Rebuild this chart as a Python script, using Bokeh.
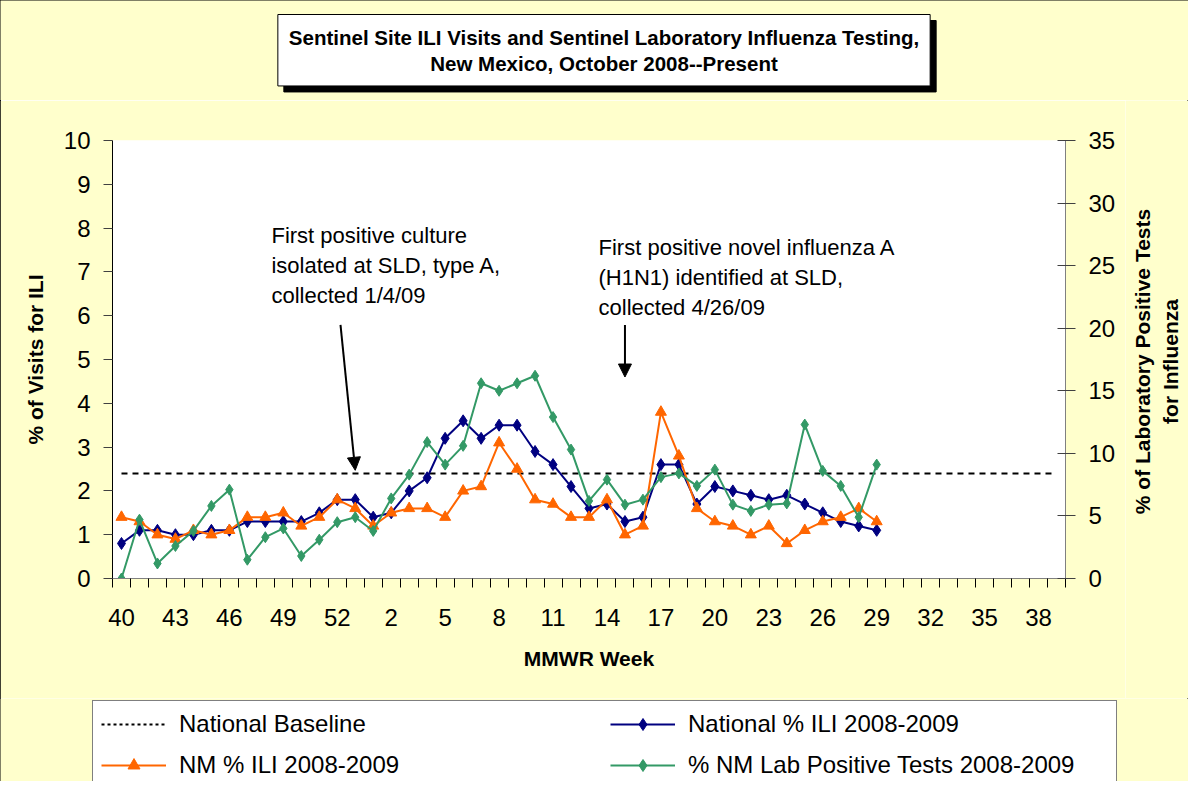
import math
from bokeh.plotting import figure
from bokeh.layouts import column, row
from bokeh.models import (Range1d, LinearAxis, FixedTicker, SingleIntervalTicker, Label,
                          Arrow, NormalHead, Legend, LegendItem)
from bokeh.embed import file_html
from bokeh.resources import INLINE

# ---- data -------------------------------------------------------------
weeks = [str(w) for w in range(40, 54)] + [str(w) for w in range(1, 40)]
national_ili = [0.8, 1.1, 1.1, 1.0, 1.0, 1.1, 1.1, 1.3, 1.3, 1.3, 1.3, 1.5, 1.8, 1.8,
                1.4, 1.5, 2.0, 2.3, 3.2, 3.6, 3.2, 3.5, 3.5, 2.9, 2.6, 2.1, 1.6, 1.7,
                1.3, 1.4, 2.6, 2.6, 1.7, 2.1, 2.0, 1.9, 1.8, 1.9, 1.7, 1.5, 1.3, 1.2, 1.1]
nm_ili = [1.4, 1.3, 1.0, 0.9, 1.1, 1.0, 1.1, 1.4, 1.4, 1.5, 1.2, 1.4, 1.8, 1.6,
          1.2, 1.5, 1.6, 1.6, 1.4, 2.0, 2.1, 3.1, 2.5, 1.8, 1.7, 1.4, 1.4, 1.8,
          1.0, 1.2, 3.8, 2.8, 1.6, 1.3, 1.2, 1.0, 1.2, 0.8, 1.1, 1.3, 1.4, 1.6, 1.3]
lab_positive = [0.0, 4.7, 1.2, 2.6, 3.8, 5.8, 7.1, 1.5, 3.3, 4.0, 1.8, 3.1, 4.5, 4.9,
                3.8, 6.4, 8.3, 10.9, 9.1, 10.6, 15.6, 15.0, 15.6, 16.2, 12.9, 10.3, 6.2, 7.9,
                5.9, 6.3, 8.1, 8.4, 7.4, 8.7, 5.9, 5.4, 5.9, 6.0, 12.3, 8.6, 7.4, 4.9, 9.1]
national_baseline = 2.4
label_step = 3
ili_max = 10
lab_max = 35

FONT = "Liberation Sans"
NAVY = "#000080"
ORANGE = "#FF6600"
GREEN = "#339966"
BG = "#FFFFCC"

# layout (pixels)
W = 1188
H_TITLE, H_MAIN, H_LEG = 100, 598, 83
W_MAIN = 1125
W_RLAB = W - W_MAIN
FRAME_L, FRAME_T, FRAME_W, FRAME_H = 112, 40, 953, 438


def strip(width, height):
    f = figure(width=width, height=height, output_backend="svg", toolbar_location=None,
               x_range=Range1d(0, width), y_range=Range1d(0, height),
               x_axis_type=None, y_axis_type=None,
               min_border_left=0, min_border_right=0, min_border_top=0, min_border_bottom=0)
    if "frame_align" in f.properties():
        f.frame_align = False
    f.border_fill_color = BG
    f.background_fill_color = BG
    f.outline_line_color = None
    f.xgrid.visible = False
    f.ygrid.visible = False
    return f


xpos_all = list(range(len(weeks)))
xpos = xpos_all[:len(national_ili)]

# ---- title strip -------------------------------------------------------------
t = strip(W, H_TITLE)
title_txt = "Sentinel Site ILI Visits and Sentinel Laboratory Influenza Testing,\nNew Mexico, October 2008--Present"
common = dict(x_units="screen", y_units="screen", text=title_txt, text_align="center",
              text_baseline="top", text_font=FONT, text_font_style="bold",
              text_font_size="20.5px", text_line_height=1.15, padding=11)
t.add_layout(Label(x=603.5 + 6, y=86 - 6, text_color="black", background_fill_color="black",
                   border_line_color="black", **common))
t.add_layout(Label(x=603.5, y=86, text_color="black", background_fill_color="white",
                   border_line_color="black", **common))

# ---- main chart -------------------------------------------------------------
p = figure(width=W_MAIN, height=H_MAIN, output_backend="svg", toolbar_location=None,
           x_range=Range1d(-0.5, len(weeks) - 0.5), y_range=Range1d(0, ili_max),
           min_border_left=FRAME_L, min_border_right=W_MAIN - FRAME_L - FRAME_W,
           min_border_top=FRAME_T, min_border_bottom=H_MAIN - FRAME_T - FRAME_H)
p.border_fill_color = BG
p.background_fill_color = "white"
p.outline_line_color = None
p.xgrid.visible = False
p.ygrid.visible = False
p.extra_y_ranges = {"lab": Range1d(0, lab_max)}

# x axis
xa = p.xaxis[0]
xa.ticker = FixedTicker(ticks=xpos_all[::label_step],
                        minor_ticks=[i - 0.5 for i in range(len(weeks) + 1)])
xa.major_label_overrides = {i: weeks[i] for i in xpos_all[::label_step]}
xa.axis_line_color = "#808080"
xa.major_tick_line_color = None
xa.major_tick_out = 0
xa.major_tick_in = 0
xa.minor_tick_line_color = "black"
xa.minor_tick_out = 9
xa.minor_tick_in = 0
xa.major_label_text_font = FONT
xa.major_label_text_font_size = "24px"
xa.major_label_text_color = "black"
xa.major_label_standoff = 21
xa.axis_label = "MMWR Week"
xa.axis_label_text_font = FONT
xa.axis_label_text_font_style = "bold"
xa.axis_label_text_font_size = "21px"
xa.axis_label_text_color = "black"
xa.axis_label_standoff = 18

# left axis
ya = p.yaxis[0]
ya.ticker = SingleIntervalTicker(interval=1)
ya.axis_line_color = "black"
ya.major_tick_line_color = "#404040"
ya.major_tick_out = 9
ya.major_tick_in = 0
ya.minor_tick_line_color = None
ya.major_label_text_font = FONT
ya.major_label_text_font_size = "24px"
ya.major_label_text_color = "black"
ya.major_label_standoff = 13
ya.axis_label = "% of Visits for ILI"
ya.axis_label_text_font = FONT
ya.axis_label_text_font_style = "bold"
ya.axis_label_text_font_size = "21px"
ya.axis_label_text_color = "black"
ya.axis_label_standoff = 14

# right axis
ra = LinearAxis(y_range_name="lab", ticker=SingleIntervalTicker(interval=5))
ra.axis_line_color = "#808080"
ra.major_tick_line_color = "#404040"
ra.major_tick_out = 10
ra.major_tick_in = 8
ra.minor_tick_line_color = None
ra.major_label_text_font = FONT
ra.major_label_text_font_size = "24px"
ra.major_label_text_color = "black"
ra.major_label_standoff = 13
p.add_layout(ra, "right")

# series
base_r = p.line(xpos_all, [national_baseline] * len(weeks), line_color="black",
                line_dash="6 5", line_width=2)
nat_l = p.line(xpos, national_ili, line_color=NAVY, line_width=2)
nat_s = p.scatter(xpos, national_ili, marker="diamond", size=12, color=NAVY)
nm_l = p.line(xpos, nm_ili, line_color=ORANGE, line_width=2)
nm_s = p.scatter(xpos, nm_ili, marker="triangle", size=11, color=ORANGE)
lab_l = p.line(xpos, lab_positive, line_color=GREEN, line_width=2, y_range_name="lab")
lab_s = p.scatter(xpos, lab_positive, marker="diamond", size=11, color=GREEN,
                  y_range_name="lab")

# annotations
p.add_layout(Label(x=8.34, y=8.12, text="First positive culture\nisolated at SLD, type A,\ncollected 1/4/09",
                   text_font=FONT, text_font_size="22px", text_line_height=1.2,
                   text_align="left", text_baseline="top", text_color="black"))
p.add_layout(Label(x=26.53, y=7.85, text="First positive novel influenza A\n(H1N1) identified at SLD,\ncollected 4/26/09",
                   text_font=FONT, text_font_size="22px", text_line_height=1.2,
                   text_align="left", text_baseline="top", text_color="black"))
p.add_layout(Arrow(end=NormalHead(size=13, fill_color="black", line_color="black"),
                   x_start=12.18, y_start=5.79, x_end=13.0, y_end=2.47,
                   line_color="black", line_width=2))
p.add_layout(Arrow(end=NormalHead(size=13, fill_color="black", line_color="black"),
                   x_start=28.0, y_start=5.79, x_end=28.0, y_end=4.6,
                   line_color="black", line_width=2))

# ---- right-axis title strip (reads bottom to top) ---------------------------
r = strip(W_RLAB, H_MAIN)
right_title = ["% of Laboratory Positive Tests", "for Influenza"]
for xs, txt in zip((17, 45), right_title):
    r.add_layout(Label(x=xs, y=H_MAIN - FRAME_T - FRAME_H / 2 - 2, x_units="screen",
                       y_units="screen", text=txt, angle=math.pi / 2, text_font=FONT,
                       text_font_style="bold", text_font_size="21px", text_align="center",
                       text_baseline="middle", text_color="black"))

# ---- legend strip -------------------------------------------------------------
q = strip(W, H_LEG)
nan = [float("nan")]
lg_base = q.line(nan, nan, line_color="black", line_dash="3 3", line_width=2)
lg_nat_l = q.line(nan, nan, line_color=NAVY, line_width=2)
lg_nat_s = q.scatter(nan, nan, marker="diamond", size=8, color=NAVY)
lg_nm_l = q.line(nan, nan, line_color=ORANGE, line_width=2)
lg_nm_s = q.scatter(nan, nan, marker="triangle", size=9, color=ORANGE)
lg_lab_l = q.line(nan, nan, line_color=GREEN, line_width=2)
lg_lab_s = q.scatter(nan, nan, marker="diamond", size=8, color=GREEN)

legend = Legend(items=[
    LegendItem(label="National Baseline", renderers=[lg_base]),
    LegendItem(label="National % ILI 2008-2009", renderers=[lg_nat_l, lg_nat_s]),
    LegendItem(label="NM % ILI 2008-2009", renderers=[lg_nm_l, lg_nm_s]),
    LegendItem(label="% NM Lab Positive Tests 2008-2009", renderers=[lg_lab_l, lg_lab_s]),
], orientation="horizontal", ncols=2, location=(92, H_LEG - 91))
legend.label_text_font = FONT
legend.label_text_font_size = "24px"
legend.label_text_color = "black"
legend.glyph_width = 65
legend.glyph_height = 30
legend.label_height = 30
legend.label_width = 420
legend.label_standoff = 13
legend.spacing = 11
legend.padding = 8
legend.margin = 0
legend.border_line_color = "black"
legend.border_line_width = 1
legend.background_fill_color = "white"
legend.background_fill_alpha = 1.0
q.add_layout(legend, "center")

page = column(t, row(p, r, spacing=0), q, spacing=0)
page.styles = {"outline": "1px solid black", "outline-offset": "-1px"}
open("out.html", "w").write(file_html(page, INLINE))
